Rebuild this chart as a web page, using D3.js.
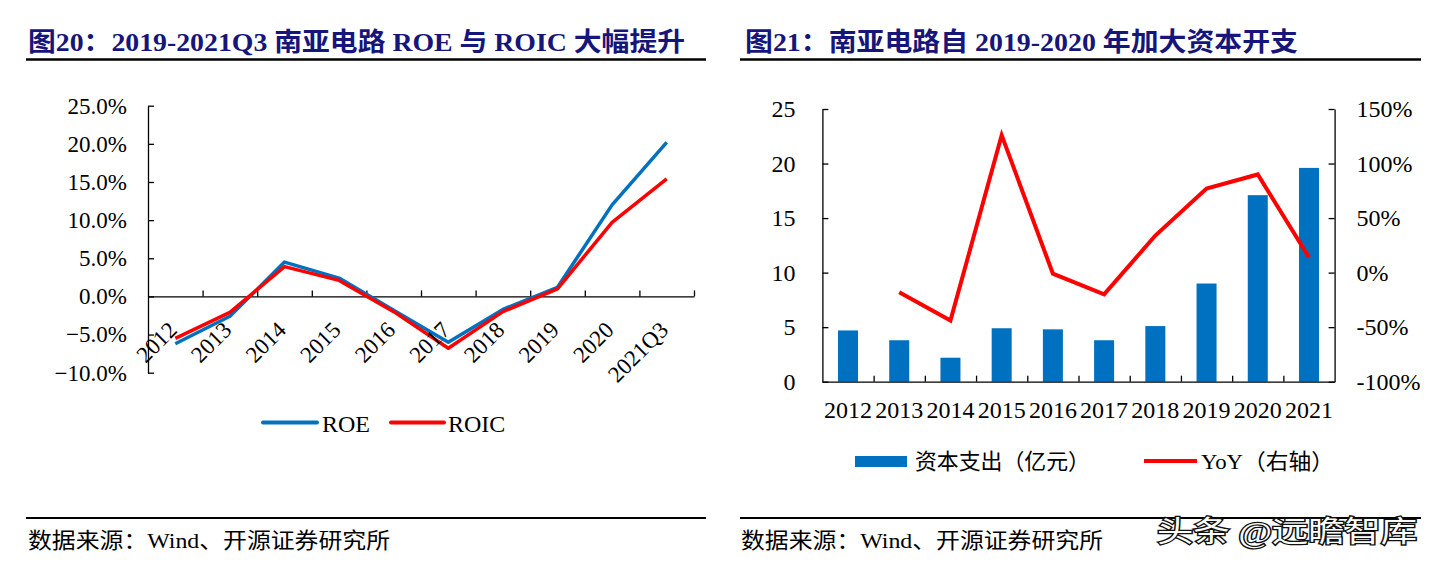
<!DOCTYPE html>
<html><head><meta charset="utf-8">
<script src="https://cdn.jsdelivr.net/npm/d3@7"></script>
<style>
html,body{margin:0;padding:0;background:#fff;}
svg{display:block;}
text{font-family:"Liberation Serif","Noto Sans CJK SC",serif;}
</style></head>
<body>
<svg id="c" width="1435" height="565"></svg>
<script>
// ---- Data: left chart ----
const roeCategories = ["2012","2013","2014","2015","2016","2017","2018","2019","2020","2021Q3"];
const roeValues  = [-6.2, -2.6, 4.5, 2.4, -1.8, -6.0, -1.7, 1.2, 12.0, 20.2];
const roicValues = [-5.5, -2.1, 3.9, 2.1, -2.0, -6.8, -2.0, 1.0, 9.7, 15.4];
const leftTicks = [-10, -5, 0, 5, 10, 15, 20, 25];
const leftSeriesNames = ["ROE", "ROIC"];

// ---- Data: right chart ----
const capexYears = ["2012","2013","2014","2015","2016","2017","2018","2019","2020","2021"];
const capexValues = [4.7, 3.8, 2.2, 4.9, 4.8, 3.8, 5.1, 9.0, 17.1, 19.6];
const yoyValues = [null, -18, -44, 126, -1, -20, 34, 77, 90, 14];
const capexTicks = [0, 5, 10, 15, 20, 25];
const yoyTicks = [-100, -50, 0, 50, 100, 150];
const rightSeriesNames = ["资本支出（亿元）", "YoY（右轴）"];

const titles = ["图20：2019-2021Q3 南亚电路 ROE 与 ROIC 大幅提升", "图21：南亚电路自 2019-2020 年加大资本开支"];
const sourceText = "数据来源：Wind、开源证券研究所";
const watermark = "头条 @远瞻智库";

const BLUE = "#0070C0", RED = "#FF0000", NAVY = "#16167a";
const svg = d3.select("#c");

// ---- Titles & rules ----
const titleX = [28, 745], titleW = [657, 553];
titles.forEach((t, i) => {
  svg.append("text").attr("x", titleX[i]).attr("y", 51)
    .attr("font-size", 26).attr("font-weight", "bold").attr("fill", NAVY)
    .attr("textLength", titleW[i]).attr("lengthAdjust", "spacingAndGlyphs")
    .text(t);
});
[[26, 706], [740, 1421]].forEach(([a, b]) => {
  svg.append("line").attr("x1", a).attr("x2", b).attr("y1", 59.5).attr("y2", 59.5)
    .attr("stroke", "#000").attr("stroke-width", 2.5);
  svg.append("line").attr("x1", a).attr("x2", b).attr("y1", 518).attr("y2", 518)
    .attr("stroke", "#000").attr("stroke-width", 2);
});
[[28, 362], [741, 362]].forEach(([x, w]) => {
  svg.append("text").attr("x", x).attr("y", 548).attr("font-size", 22).attr("fill", "#000")
    .attr("textLength", w).attr("lengthAdjust", "spacingAndGlyphs").text(sourceText);
});

// ---- Left chart ----
const L = { x0: 148, x1: 694, yTop: 105.7, yBot: 372.7 };
const xL = d3.scaleBand().domain(roeCategories).range([L.x0, L.x1]).padding(0);
const yL = d3.scaleLinear().domain([-10, 25]).range([L.yBot, L.yTop]);
const gL = svg.append("g");

const yAxisL = d3.axisLeft(yL).tickValues(leftTicks).tickSize(-6).tickSizeOuter(0)
  .tickPadding(21).tickFormat(d => d3.format(".1f")(d) + "%");
gL.append("g").attr("transform", `translate(${L.x0},0)`).call(yAxisL)
  .call(g => { g.selectAll("text").attr("font-size", 23).attr("fill", "#000").attr("font-family", "Liberation Serif");
               g.selectAll("line,path").attr("stroke", "#000").attr("stroke-width", 1.3); });

const idxL = d3.scaleLinear().domain([0, roeCategories.length]).range([L.x0, L.x1]);
const xAxisL = d3.axisBottom(idxL).tickValues(d3.range(1, roeCategories.length + 1))
  .tickSize(-6).tickSizeOuter(0).tickFormat("");
gL.append("g").attr("transform", `translate(0,${yL(0)})`).call(xAxisL)
  .call(g => g.selectAll("line,path").attr("stroke", "#000").attr("stroke-width", 1.3));

const lineL = d3.line().x((d, i) => xL(roeCategories[i]) + xL.bandwidth() / 2).y(d => yL(d));
[[roeValues, BLUE], [roicValues, RED]].forEach(([vals, col]) => {
  gL.append("path").datum(vals).attr("d", lineL).attr("fill", "none")
    .attr("stroke", col).attr("stroke-width", 3.5).attr("stroke-linejoin", "round");
});

gL.selectAll("text.xl").data(roeCategories).join("text").attr("class", "xl")
  .attr("transform", d => `translate(${xL(d) + xL.bandwidth() / 2 + 3},${yL(0) + 35}) rotate(-45)`)
  .attr("text-anchor", "end").attr("font-size", 23).attr("fill", "#000").text(d => d);

// left legend
const legL = [{ x1: 263, x2: 317, tx: 322, c: BLUE }, { x1: 391, x2: 444, tx: 448, c: RED }];
leftSeriesNames.forEach((n, i) => {
  const p = legL[i];
  svg.append("line").attr("x1", p.x1).attr("x2", p.x2).attr("y1", 422.5).attr("y2", 422.5)
    .attr("stroke", p.c).attr("stroke-width", 4).attr("stroke-linecap", "round");
  svg.append("text").attr("x", p.tx).attr("y", 431.5).attr("font-size", 24).attr("fill", "#000").text(n);
});

// ---- Right chart ----
const R = { x0: 822.4, x1: 1334.6, yTop: 109, yBot: 381.7 };
const xR = d3.scaleBand().domain(capexYears).range([R.x0, R.x1]).padding(0);
const yR1 = d3.scaleLinear().domain([0, 25]).range([R.yBot, R.yTop]);
const yR2 = d3.scaleLinear().domain([-100, 150]).range([R.yBot, R.yTop]);
const gR = svg.append("g");

const barW = 20;
gR.selectAll("rect.bar").data(capexValues).join("rect").attr("class", "bar")
  .attr("x", (d, i) => xR(capexYears[i]) + xR.bandwidth() / 2 - barW / 2)
  .attr("width", barW).attr("y", d => yR1(d)).attr("height", d => yR1(0) - yR1(d))
  .attr("fill", BLUE);

const styleAxis = g => {
  g.selectAll("text").attr("font-size", 24).attr("fill", "#000").attr("font-family", "Liberation Serif");
  g.selectAll("line,path").attr("stroke", "#000").attr("stroke-width", 1.3);
};
gR.append("g").attr("transform", `translate(${R.x0},0)`)
  .call(d3.axisLeft(yR1).tickValues(capexTicks).tickSize(-6).tickSizeOuter(0).tickPadding(27))
  .call(styleAxis);
gR.append("g").attr("transform", `translate(${R.x1},0)`)
  .call(d3.axisRight(yR2).tickValues(yoyTicks).tickSize(-6).tickSizeOuter(0).tickPadding(22).tickFormat(d => d + "%"))
  .call(styleAxis);
const idxR = d3.scaleLinear().domain([0, capexYears.length]).range([R.x0, R.x1]);
gR.append("g").attr("transform", `translate(0,${R.yBot})`)
  .call(d3.axisBottom(idxR).tickValues(d3.range(1, capexYears.length)).tickSize(-6).tickSizeOuter(0).tickFormat(""))
  .call(styleAxis);
gR.selectAll("text.xr").data(capexYears).join("text").attr("class", "xr")
  .attr("x", d => xR(d) + xR.bandwidth() / 2).attr("y", 418)
  .attr("text-anchor", "middle").attr("font-size", 24).attr("fill", "#000").text(d => d);

const lineR = d3.line().defined(d => d != null)
  .x((d, i) => xR(capexYears[i]) + xR.bandwidth() / 2).y(d => yR2(d));
gR.append("path").datum(yoyValues).attr("d", lineR).attr("fill", "none")
  .attr("stroke", RED).attr("stroke-width", 4).attr("stroke-linejoin", "miter");

// right legend
svg.append("rect").attr("x", 855).attr("y", 456).attr("width", 52).attr("height", 11).attr("fill", BLUE);
svg.append("text").attr("x", 915).attr("y", 469).attr("font-size", 22).attr("fill", "#000")
  .attr("textLength", 175).attr("lengthAdjust", "spacingAndGlyphs").text(rightSeriesNames[0]);
svg.append("line").attr("x1", 1144).attr("x2", 1197).attr("y1", 461).attr("y2", 461)
  .attr("stroke", RED).attr("stroke-width", 4);
svg.append("text").attr("x", 1201).attr("y", 469).attr("font-size", 22).attr("fill", "#000")
  .attr("textLength", 133).attr("lengthAdjust", "spacingAndGlyphs").text(rightSeriesNames[1]);

// watermark
svg.append("text").attr("x", 1157).attr("y", 542).attr("font-size", 29)
  .attr("font-family", "Noto Sans CJK SC").attr("fill", "#fff").attr("stroke", "#111")
  .attr("stroke-width", 2.6).attr("paint-order", "stroke")
  .attr("textLength", 260).attr("lengthAdjust", "spacingAndGlyphs").text(watermark);
</script>
</body></html>
